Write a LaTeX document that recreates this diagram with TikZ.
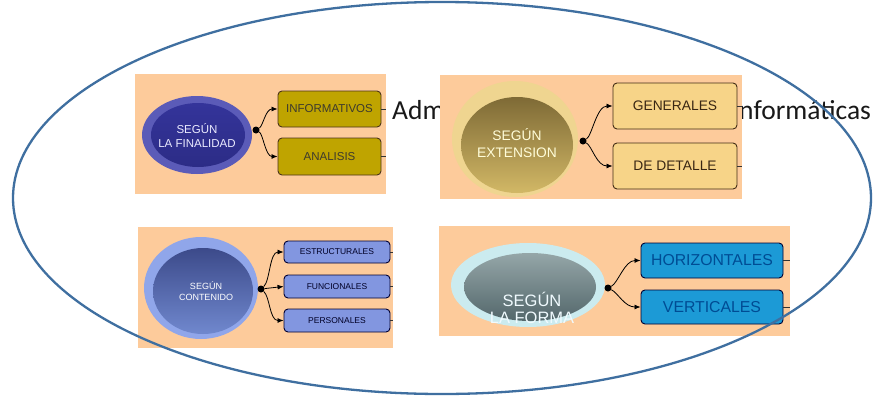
\documentclass[tikz,border=0pt]{standalone}
\usepackage{fontspec}
\setmainfont{Liberation Sans}
\newfontfamily\calibfont{Carlito}
\usetikzlibrary{arrows.meta,shapes.geometric}
\definecolor{peach}{HTML}{FDCB9B}
\definecolor{bigline}{HTML}{3F6FA0}
\definecolor{olivebox}{HTML}{BFA400}
\definecolor{goldbox}{HTML}{F7D488}
\definecolor{bluebox}{HTML}{8296E0}
\definecolor{cyanbox}{HTML}{1C9AD6}
\definecolor{ringA}{HTML}{5B5BB8}
\definecolor{innerA}{HTML}{2C2C86}
\definecolor{innerAtop}{HTML}{34349A}
\definecolor{ringB}{HTML}{EFD590}
\definecolor{innerBtop}{HTML}{7E6A36}
\definecolor{innerBbot}{HTML}{D2B866}
\definecolor{ringC}{HTML}{90A6EA}
\definecolor{innerCtop}{HTML}{3C4A8A}
\definecolor{innerCbot}{HTML}{7088CE}
\definecolor{ringD}{HTML}{CBEBEF}
\definecolor{innerDtop}{HTML}{95A6A8}
\definecolor{innerDbot}{HTML}{53676B}
\begin{document}
\begin{tikzpicture}[x=1pt,y=-1pt,
  panel/.style={rectangle, fill=peach, draw=none, inner sep=0pt},
  leafbox/.style={rectangle, rounded corners=4pt, line width=0.9pt, inner sep=0pt},
  hubdot/.style={circle, fill=black, inner sep=0pt, minimum size=7pt},
  conn/.style={line width=0.8pt, -{Latex[length=6pt,width=5pt]}},
  stub/.style={line width=0.8pt, draw=black!80},
  hub/.style={ellipse, inner sep=0pt, align=center}
]
\useasboundingbox (0,0) rectangle (876,397);
\fill[white] (0,0) rectangle (876,397);

% background title text (partly hidden by panel 2)
\node[anchor=base west, inner sep=0pt, text=black!90] (t1) at (392,119) {\calibfont\fontsize{27.5}{30}\selectfont Adm};
\node[anchor=base west, inner sep=0pt, text=black!90] (t2) at (739,119) {\calibfont\fontsize{27.5}{30}\selectfont nformáticas};

% ---------- Panel 1 ----------
\node[panel, minimum width=251pt, minimum height=120pt] (p1) at (260.5,134) {};
\node[hub, fill=ringA, minimum width=110pt, minimum height=78pt] (e1) at (197,135) {};
\shade[top color=innerAtop, bottom color=innerA] (198,135) ellipse [x radius=47pt, y radius=32pt];
\node[align=center, text=white!92!blue, font=\fontsize{11.5}{14}\selectfont] (e1t) at (197,136) {SEGÚN\\LA FINALIDAD};
\node[hubdot] (d1) at (256,130) {};
\node[leafbox, fill=olivebox, draw=black!60!brown, minimum width=103pt, minimum height=36pt,
      text=black!75!olive, font=\fontsize{11.5}{13}\selectfont] (b11) at (329.5,109) {INFORMATIVOS};
\node[leafbox, fill=olivebox, draw=black!60!brown, minimum width=103pt, minimum height=37pt,
      text=black!75!olive, font=\fontsize{11.5}{13}\selectfont] (b12) at (329.5,156.5) {ANALISIS};
\draw[conn] (d1) .. controls +(7,-4) and +(-12,0) .. (b11.west);
\draw[conn] (d1) .. controls +(7,4) and +(-12,0) .. (b12.west);
\draw[stub] (b11.east) -- (b11.east -| p1.east);
\draw[stub] (b12.east) -- (b12.east -| p1.east);

% ---------- Panel 2 ----------
\node[panel, minimum width=302pt, minimum height=124pt] (p2) at (591,137) {};
\node[hub, fill=ringB, minimum width=126pt, minimum height=116pt] (e2) at (515,139) {};
\shade[top color=innerBtop, bottom color=innerBbot] (517,145) ellipse [x radius=56pt, y radius=48pt];
\node[align=center, text=white!85!yellow, font=\fontsize{13.8}{17}\selectfont] (e2t) at (517,143) {SEGÚN\\EXTENSION};
\node[hubdot] (d2) at (583,141) {};
\node[leafbox, fill=goldbox, draw=black!65!brown, minimum width=124pt, minimum height=46pt,
      text=black!70!brown, font=\fontsize{13.8}{16}\selectfont] (b21) at (675,106) {GENERALES};
\node[leafbox, fill=goldbox, draw=black!65!brown, minimum width=124pt, minimum height=46pt,
      text=black!70!brown, font=\fontsize{13.8}{16}\selectfont] (b22) at (675,166) {DE DETALLE};
\draw[conn] (d2) .. controls +(9,-5) and +(-16,0) .. (b21.west);
\draw[conn] (d2) .. controls +(9,5) and +(-16,0) .. (b22.west);
\draw[stub] (b21.east) -- (b21.east -| p2.east);
\draw[stub] (b22.east) -- (b22.east -| p2.east);

% ---------- Panel 3 ----------
\node[panel, minimum width=255pt, minimum height=121pt] (p3) at (265.5,287.5) {};
\node[hub, fill=ringC, minimum width=114pt, minimum height=102pt] (e3) at (201,288) {};
\shade[top color=innerCtop, bottom color=innerCbot] (203,291) ellipse [x radius=50pt, y radius=43pt];
\node[align=center, text=white, font=\fontsize{9}{11}\selectfont] (e3t) at (206,291) {SEGÚN\\CONTENIDO};
\node[hubdot] (d3) at (261,289) {};
\node[leafbox, fill=bluebox, draw=black!80!blue, minimum width=106pt, minimum height=22pt,
      text=black!85!blue, font=\fontsize{8.5}{10}\selectfont] (b31) at (337,252) {ESTRUCTURALES};
\node[leafbox, fill=bluebox, draw=black!80!blue, minimum width=106pt, minimum height=23pt,
      text=black!85!blue, font=\fontsize{8.5}{10}\selectfont] (b32) at (337,286.5) {FUNCIONALES};
\node[leafbox, fill=bluebox, draw=black!80!blue, minimum width=106pt, minimum height=23pt,
      text=black!85!blue, font=\fontsize{8.5}{10}\selectfont] (b33) at (337,320.5) {PERSONALES};
\draw[conn] (d3) .. controls +(9,-8) and +(-14,0) .. (b31.west);
\draw[conn] (d3) -- (b32.west);
\draw[conn] (d3) .. controls +(9,8) and +(-14,0) .. (b33.west);
\draw[stub] (b31.east) -- (b31.east -| p3.east);
\draw[stub] (b32.east) -- (b32.east -| p3.east);
\draw[stub] (b33.east) -- (b33.east -| p3.east);

% ---------- Panel 4 ----------
\node[panel, minimum width=351pt, minimum height=110pt] (p4) at (614.5,281) {};
\node[hub, fill=ringD, minimum width=154pt, minimum height=84pt] (e4) at (528,285) {};
\shade[top color=innerDtop, bottom color=innerDbot] (530,287) ellipse [x radius=66pt, y radius=34pt];
\node[align=center, text=white!94!cyan, font=\fontsize{16.5}{17}\selectfont] (e4t) at (532,308) {SEGÚN\\LA FORMA};
\node[hubdot] (d4) at (608,288) {};
\node[leafbox, fill=cyanbox, draw=black!80!blue, minimum width=142pt, minimum height=35pt,
      text=black!60!blue!70!cyan, font=\fontsize{15.8}{18}\selectfont] (b41) at (712,260.5) {HORIZONTALES};
\node[leafbox, fill=cyanbox, draw=black!80!blue, minimum width=142pt, minimum height=34pt,
      text=black!60!blue!70!cyan, font=\fontsize{15.8}{18}\selectfont] (b42) at (712,307) {VERTICALES};
\draw[conn] (d4) .. controls +(10,-5) and +(-16,0) .. (b41.west);
\draw[conn] (d4) .. controls +(10,5) and +(-16,0) .. (b42.west);
\draw[stub] (b41.east) -- (b41.east -| p4.east);
\draw[stub] (b42.east) -- (b42.east -| p4.east);

% ---------- big enclosing ellipse ----------
\node[ellipse, draw=bigline, line width=2.3pt, inner sep=0pt,
      minimum width=858pt, minimum height=392pt] (big) at (442,198) {};
\end{tikzpicture}
\end{document}
